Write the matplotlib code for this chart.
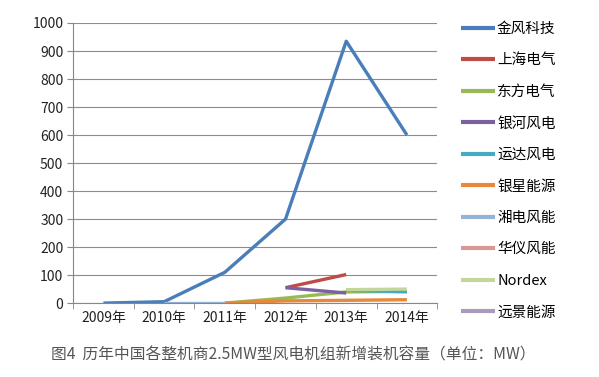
import numpy as np
import matplotlib
matplotlib.use("Agg")
import matplotlib.pyplot as plt

plt.rcParams['font.family'] = ['Noto Sans CJK SC', 'DejaVu Sans']

# 数据
years = ['2009年', '2010年', '2011年', '2012年', '2013年', '2014年']
nan = np.nan
names = ['金风科技', '上海电气', '东方电气', '银河风电', '运达风电',
         '银星能源', '湘电风能', '华仪风能', 'Nordex', '远景能源']
jinfeng = [0, 5, 110, 300, 935, 600]
shanghai = [nan, nan, nan, 55, 102, nan]
dongfang = [nan, nan, 0, 18, 40, 42]
yinhe = [nan, nan, nan, 55, 36, nan]
yunda = [nan, nan, nan, nan, 46, 40]
yinxing = [nan, nan, 0, 8, 10, 12]
xiangdian = [nan, 0, 0, nan, nan, nan]
huayi = [nan, nan, nan, nan, nan, nan]
nordex = [nan, nan, nan, nan, 48, 50]
yuanjing = [nan, nan, nan, nan, nan, nan]
series = [jinfeng, shanghai, dongfang, yinhe, yunda,
          yinxing, xiangdian, huayi, nordex, yuanjing]

colors = ['#4A7EBB', '#BE4B48', '#98B954', '#7D60A0', '#46AAC5',
          '#E8883A', '#95B3D7', '#D99694', '#C3D69B', '#A99BBD']

fig = plt.figure(figsize=(5.99, 3.77), dpi=100)
ax = fig.add_axes([0.122, 0.196, 0.608, 0.743])

x = np.arange(len(years))
for vals, name, c in zip(series, names, colors):
    ax.plot(x, vals, color=c, lw=2.4, label=name, solid_capstyle='butt')

ax.set_xlim(-0.5, len(years) - 0.5)
ax.set_ylim(0, 1000)
ax.set_yticks(range(0, 1001, 100))
ax.set_xticks(x)
ax.set_xticklabels(years, fontsize=10, color='#222222')
ax.set_xticks(np.arange(-0.5, len(years)), minor=True)
ax.tick_params(axis='x', which='major', length=0, pad=6)
ax.tick_params(axis='x', which='minor', length=4, color='#888888')
ax.tick_params(axis='y', length=4, color='#888888', labelsize=10,
               labelcolor='#222222', pad=3)
ax.grid(axis='y', color='#8c8c8c', lw=0.8)
ax.set_axisbelow(True)
for s in ['top', 'right']:
    ax.spines[s].set_visible(False)
for s in ['left', 'bottom']:
    ax.spines[s].set_color('#888888')

leg = ax.legend(loc='upper left', bbox_to_anchor=(1.05, 1.025), frameon=False,
                fontsize=10.5, handlelength=2.3, handletextpad=0.15,
                labelspacing=1.2, borderaxespad=0)
for h in leg.get_lines():
    h.set_linewidth(3)

fig.text(0.49, 0.058, '图4  历年中国各整机商2.5MW型风电机组新增装机容量（单位：MW）',
         ha='center', va='center', fontsize=11.3, color='#555555')

fig.savefig('out.png', dpi=100, facecolor='white')
